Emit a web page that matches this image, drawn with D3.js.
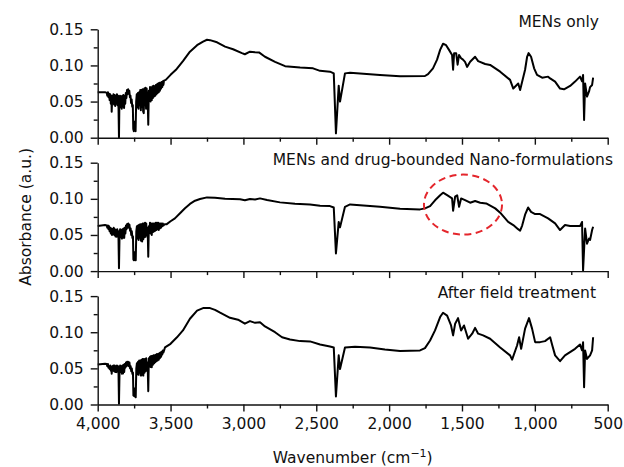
<!DOCTYPE html>
<html>
<head>
<meta charset="utf-8">
<script src="https://cdnjs.cloudflare.com/ajax/libs/d3/7.8.5/d3.min.js"></script>
<style>
	body { margin: 0; background: #fff; }
	svg text { font-family: "DejaVu Sans", sans-serif; fill: #111; }
</style>
</head>
<body>
<svg id="chart" width="624" height="467"></svg>
<script>
'use strict';

// tick values
var xTicks = [4000, 3500, 3000, 2500, 2000, 1500, 1000, 500];
var xMinorTicks = [3750, 3250, 2750, 2250, 1750, 1250, 750];
var yTicks = [0, 0.05, 0.10, 0.15];
var yMinorTicks = [0.025, 0.075, 0.125];

var panelTitles = ["MENs only", "MENs and drug-bounded Nano-formulations", "After field treatment"];

// [wavenumber, absorbance]
var menOnly = [
	[4000,0.063],[3950,0.063],[3938,0.062],[3934,0.058],[3930,0.063],[3926,0.056],[3922,0.061],[3918,0.052],
	[3914,0.060],[3910,0.047],[3906,0.058],[3904,0.036],[3900,0.057],[3896,0.048],[3892,0.060],[3888,0.046],
	[3884,0.059],[3880,0.044],[3876,0.058],[3872,0.047],[3868,0.060],[3864,0.045],[3860,0.058],[3857,0.040],
	[3854,0.000],[3851,0.050],[3847,0.058],[3843,0.042],[3839,0.057],[3835,0.040],[3831,0.058],[3827,0.043],
	[3823,0.059],[3819,0.041],[3815,0.057],[3811,0.047],[3807,0.062],[3803,0.055],[3799,0.066],[3795,0.060],
	[3791,0.067],[3787,0.061],[3783,0.065],[3779,0.056],[3775,0.058],[3771,0.048],[3767,0.053],[3763,0.043],
	[3759,0.045],[3756,0.012],[3752,0.009],[3748,0.022],[3744,0.010],[3740,0.009],[3736,0.050],[3732,0.060],
	[3728,0.042],[3724,0.062],[3720,0.040],[3716,0.063],[3712,0.045],[3708,0.066],[3704,0.038],[3700,0.066],
	[3696,0.042],[3692,0.067],[3688,0.036],[3684,0.034],[3680,0.068],[3676,0.045],[3672,0.069],[3668,0.040],
	[3664,0.068],[3660,0.048],[3656,0.045],[3653,0.018],[3649,0.065],[3645,0.052],[3641,0.070],[3637,0.050],
	[3633,0.069],[3629,0.052],[3625,0.071],[3621,0.055],[3617,0.072],[3613,0.057],[3609,0.071],[3605,0.058],
	[3601,0.073],[3597,0.060],[3593,0.074],[3589,0.062],[3585,0.075],[3581,0.063],[3577,0.076],[3573,0.065],
	[3569,0.076],[3565,0.068],[3561,0.077],[3557,0.070],[3553,0.078],[3549,0.073],[3545,0.079],[3533,0.080],
	[3500,0.087],[3463,0.094],[3415,0.106],[3367,0.119],
	[3318,0.128],[3277,0.133],[3250,0.1355],[3229,0.135],[3181,0.132],[3126,0.126],[3071,0.1224],[3010,0.117],
	[2990,0.1155],[2955,0.119],[2920,0.1183],[2893,0.118],[2852,0.112],[2783,0.105],[2714,0.099],[2611,0.097],
	[2522,0.096],[2474,0.0925],[2406,0.0914],[2380,0.089],[2365,0.006],[2346,0.072],[2337,0.050],[2303,0.089],
	[2268,0.090],[2063,0.0868],[1925,0.085],[1754,0.0854],[1733,0.088],[1699,0.096],[1671,0.108],[1650,0.1215],
	[1630,0.130],[1609,0.128],[1589,0.1215],[1568,0.1145],[1561,0.094],[1554,0.117],[1540,0.117],[1530,0.101],
	[1520,0.1145],[1506,0.110],[1493,0.108],[1479,0.105],[1465,0.098],[1444,0.105],[1410,0.112],[1389,0.106],
	[1341,0.102],[1307,0.1007],[1238,0.0914],[1170,0.080],[1148,0.068],[1114,0.075],[1101,0.066],[1067,0.094],
	[1053,0.112],[1043,0.117],[1026,0.112],[1005,0.096],[985,0.0868],[950,0.083],[909,0.0845],[895,0.082],
	[861,0.0776],[827,0.068],[800,0.067],[758,0.0716],[724,0.0776],[690,0.0845],[676,0.078],[669,0.0868],
	[662,0.0245],[655,0.075],[642,0.057],[628,0.064],[621,0.070],[607,0.073],[600,0.083]
];

var drugBound = [
	[4000,0.0623],[3950,0.0637],[3938,0.063],[3934,0.060],[3930,0.063],[3926,0.058],[3922,0.062],[3918,0.055],
	[3914,0.060],[3910,0.052],[3906,0.059],[3902,0.050],[3898,0.058],[3894,0.051],[3890,0.060],[3886,0.050],
	[3882,0.058],[3878,0.048],[3874,0.057],[3870,0.0475],[3866,0.058],[3862,0.048],[3858,0.055],[3854,0.004],
	[3850,0.050],[3846,0.058],[3842,0.047],[3838,0.057],[3834,0.045],[3830,0.058],[3826,0.046],[3822,0.059],
	[3818,0.046],[3814,0.060],[3810,0.052],[3806,0.063],[3802,0.058],[3798,0.065],[3794,0.060],[3790,0.066],
	[3786,0.060],[3782,0.064],[3778,0.056],[3774,0.059],[3770,0.050],[3766,0.055],[3762,0.046],[3758,0.048],
	[3755,0.016],[3751,0.015],[3747,0.026],[3743,0.016],[3739,0.015],[3735,0.055],[3731,0.062],[3727,0.045],
	[3723,0.063],[3719,0.043],[3715,0.064],[3711,0.046],[3707,0.065],[3703,0.042],[3699,0.065],[3695,0.041],
	[3691,0.066],[3687,0.044],[3683,0.066],[3679,0.047],[3675,0.067],[3671,0.0475],[3667,0.066],[3663,0.050],
	[3659,0.060],[3656,0.048],[3653,0.020],[3649,0.062],[3645,0.055],[3641,0.067],[3637,0.052],[3633,0.066],
	[3629,0.050],[3625,0.066],[3621,0.054],[3617,0.066],[3613,0.055],[3609,0.066],[3605,0.056],[3601,0.067],
	[3597,0.057],[3593,0.067],[3589,0.058],[3585,0.067],[3581,0.057],[3577,0.066],[3573,0.059],[3569,0.066],
	[3565,0.060],[3561,0.066],[3557,0.062],[3553,0.066],[3549,0.063],[3540,0.065],[3526,0.065],
	[3500,0.069],[3470,0.073],[3435,0.080],[3401,0.087],[3367,0.093],[3332,0.0974],[3298,0.0997],[3250,0.102],
	[3195,0.1015],[3126,0.100],[3023,0.0993],[2990,0.098],[2955,0.0997],[2920,0.099],[2886,0.1006],[2838,0.0983],
	[2749,0.0951],[2646,0.0932],[2543,0.0923],[2474,0.0905],[2406,0.090],[2380,0.088],[2365,0.0245],[2346,0.068],
	[2337,0.0605],[2303,0.089],[2268,0.0923],[2063,0.089],[1925,0.0863],[1788,0.0854],[1754,0.0868],[1719,0.090],
	[1685,0.098],[1650,0.105],[1630,0.1085],[1602,0.105],[1568,0.1006],[1561,0.0835],[1547,0.103],[1533,0.105],
	[1520,0.089],[1506,0.1006],[1479,0.0983],[1444,0.0946],[1410,0.097],[1375,0.0946],[1334,0.0937],[1272,0.0868],
	[1238,0.0808],[1183,0.068],[1148,0.0637],[1115,0.058],[1101,0.056],[1087,0.063],[1067,0.078],[1046,0.088],
	[1026,0.082],[998,0.079],[964,0.079],[909,0.073],[861,0.066],[827,0.0568],[793,0.0637],[758,0.0623],
	[690,0.0623],[676,0.068],[669,0.001],[655,0.059],[642,0.038],[628,0.045],[621,0.043],[607,0.0568],[600,0.0614]
];

var afterField = [
	[4000,0.0554],[3950,0.0564],[3938,0.056],[3934,0.053],[3930,0.056],[3926,0.051],[3922,0.0526],[3918,0.049],
	[3914,0.054],[3910,0.047],[3906,0.052],[3904,0.0425],[3900,0.053],[3896,0.047],[3892,0.054],[3888,0.046],
	[3884,0.054],[3880,0.045],[3876,0.053],[3872,0.0448],[3868,0.054],[3864,0.046],[3860,0.053],[3857,0.042],
	[3854,0.001],[3850,0.047],[3846,0.054],[3842,0.045],[3838,0.053],[3834,0.0425],[3830,0.054],[3826,0.043],
	[3822,0.055],[3818,0.045],[3814,0.056],[3810,0.051],[3806,0.058],[3802,0.053],[3798,0.059],[3794,0.054],
	[3790,0.059],[3786,0.053],[3782,0.058],[3778,0.050],[3774,0.053],[3770,0.046],[3766,0.050],[3762,0.0425],
	[3758,0.044],[3755,0.0125],[3751,0.012],[3747,0.022],[3743,0.011],[3739,0.010],[3735,0.050],[3731,0.057],
	[3727,0.042],[3723,0.059],[3719,0.041],[3715,0.061],[3711,0.044],[3707,0.061],[3703,0.040],[3699,0.062],
	[3695,0.041],[3691,0.063],[3687,0.040],[3683,0.063],[3679,0.044],[3675,0.063],[3671,0.046],[3667,0.064],
	[3663,0.047],[3659,0.058],[3656,0.045],[3653,0.0185],[3649,0.064],[3645,0.053],[3641,0.066],[3637,0.052],
	[3633,0.067],[3629,0.0517],[3625,0.067],[3621,0.055],[3617,0.068],[3613,0.057],[3609,0.068],[3605,0.0586],
	[3601,0.069],[3597,0.060],[3593,0.070],[3589,0.061],[3585,0.070],[3581,0.062],[3577,0.071],[3573,0.064],
	[3569,0.072],[3565,0.066],[3561,0.073],[3557,0.069],[3553,0.0748],[3549,0.072],[3538,0.079],
	[3500,0.084],[3456,0.093],[3415,0.1025],[3367,0.1187],
	[3318,0.130],[3277,0.1334],[3229,0.1334],[3195,0.131],[3160,0.127],[3092,0.120],[3037,0.1173],[2990,0.1118],
	[2955,0.1154],[2920,0.113],[2886,0.1137],[2852,0.108],[2783,0.100],[2735,0.093],[2680,0.090],[2611,0.0877],
	[2543,0.0873],[2474,0.083],[2406,0.0803],[2380,0.079],[2365,0.011],[2346,0.068],[2337,0.049],[2303,0.079],
	[2234,0.080],[2131,0.079],[2029,0.076],[1925,0.0739],[1788,0.0748],[1754,0.078],[1719,0.0886],[1685,0.1025],
	[1650,0.121],[1630,0.127],[1602,0.123],[1575,0.1094],[1561,0.0956],[1547,0.1118],[1527,0.1195],[1506,0.1025],
	[1486,0.1094],[1458,0.091],[1430,0.098],[1410,0.106],[1389,0.098],[1355,0.0956],[1307,0.091],[1238,0.079],
	[1170,0.068],[1156,0.062],[1122,0.0817],[1108,0.093],[1094,0.077],[1067,0.105],[1040,0.1195],[1019,0.105],
	[998,0.0863],[964,0.0863],[930,0.0877],[895,0.093],[880,0.0817],[861,0.068],[827,0.060],[793,0.068],
	[724,0.077],[690,0.083],[676,0.075],[669,0.086],[662,0.024],[655,0.0748],[642,0.063],[621,0.068],
	[607,0.0748],[600,0.093]
];

// dashed ellipse on the middle panel: centre wavenumber, centre absorbance, half width, half height
var highlight = [1493, 0.092, 268, 0.0415];

var chart = {

	svg: d3.select("#chart"),

	left: 97.7,
	right: 607.7,
	top: 29.3,
	panelH: 108.4,
	gap: 25,

	x: null,
	y: null,

	init: function() {
		this.x = d3.scaleLinear().domain([4000, 500]).range([this.left, this.right]);
		this.y = d3.scaleLinear().domain([0, 0.15]).range([this.panelH, 0]);

		var series = [menOnly, drugBound, afterField];
		for (var i = 0; i < series.length; i++) {
			this.drawPanel(i, series[i]);
		}
		this.drawLabels();
	},

	drawPanel: function(i, data) {
		var that = this;
		var last = i === 2;
		var g = this.svg.append("g")
			.attr("transform", "translate(0," + (this.top + i * (this.panelH + this.gap)) + ")");

		var line = d3.line()
			.x(function(d) { return that.x(d[0]); })
			.y(function(d) { return that.y(d[1]); });

		g.append("path")
			.datum(data)
			.attr("d", line)
			.attr("fill", "none")
			.attr("stroke", "#000")
			.attr("stroke-width", 2)
			.attr("stroke-linejoin", "round");

		// y axis
		g.append("g")
			.attr("class", "axis")
			.attr("transform", "translate(" + this.left + ",0)")
			.call(d3.axisLeft(this.y).tickValues(yTicks).tickFormat(d3.format(".2f"))
				.tickSize(7).tickSizeOuter(0).tickPadding(7));
		g.append("g")
			.attr("class", "axis minor")
			.attr("transform", "translate(" + this.left + ",0)")
			.call(d3.axisLeft(this.y).tickValues(yMinorTicks).tickFormat("").tickSize(4).tickSizeOuter(0));

		// x axis
		var xAxis = d3.axisBottom(this.x).tickValues(xTicks).tickSize(7).tickSizeOuter(0).tickPadding(6);
		xAxis.tickFormat(last ? d3.format(",") : "");
		g.append("g")
			.attr("class", "axis")
			.attr("transform", "translate(0," + this.panelH + ")")
			.call(xAxis);
		g.append("g")
			.attr("class", "axis minor")
			.attr("transform", "translate(0," + this.panelH + ")")
			.call(d3.axisBottom(this.x).tickValues(xMinorTicks).tickFormat("").tickSize(4).tickSizeOuter(0));

		g.selectAll(".axis path, .axis line").attr("stroke", "#111").attr("stroke-width", 1.4);
		g.selectAll(".minor path").remove();
		g.selectAll(".axis text").attr("font-size", "15.5px").attr("fill", "#111")
			.style("font-family", '"DejaVu Sans", sans-serif');

		var titleY = [-2.8, 1.9, 2.2];
		var titleX = [599, 613, 596];
		g.append("text")
			.attr("x", titleX[i])
			.attr("y", titleY[i])
			.attr("text-anchor", "end")
			.attr("font-size", "15.5px")
			.text(panelTitles[i]);

		if (i === 1) {
			g.append("ellipse")
				.attr("cx", this.x(highlight[0]))
				.attr("cy", this.y(highlight[1]))
				.attr("rx", this.x(highlight[0] - highlight[2]) - this.x(highlight[0]))
				.attr("ry", this.y(0) - this.y(highlight[3]))
				.attr("fill", "none")
				.attr("stroke", "#e4262c")
				.attr("stroke-width", 2)
				.attr("stroke-dasharray", "7,4.5");
		}
	},

	drawLabels: function() {
		var midY = this.top + (3 * this.panelH + 2 * this.gap) / 2;

		this.svg.append("text")
			.attr("transform", "translate(31," + midY + ") rotate(-90)")
			.attr("text-anchor", "middle")
			.attr("font-size", "15.5px")
			.text("Absorbance (a.u.)");

		var t = this.svg.append("text")
			.attr("x", (this.left + this.right) / 2)
			.attr("y", 463)
			.attr("text-anchor", "middle")
			.attr("font-size", "15.5px");
		t.append("tspan").text("Wavenumber (cm");
		t.append("tspan").attr("dy", -6).attr("font-size", "11px").text("\u22121");
		t.append("tspan").attr("dy", 6).text(")");
	}
};

chart.init();
</script>
</body>
</html>
